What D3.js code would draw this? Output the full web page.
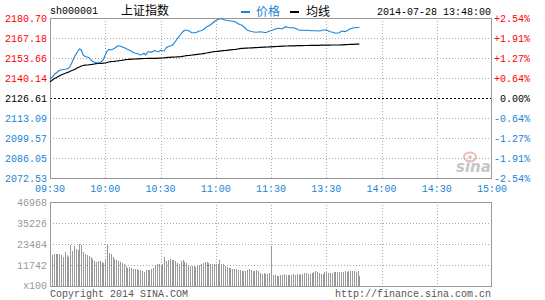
<!DOCTYPE html>
<html>
<head>
<meta charset="utf-8">
<script src="https://cdn.jsdelivr.net/npm/d3@7"></script>
<style>
  body { margin: 0; background: #fff; }
  svg text { font-family: "Liberation Mono", "DejaVu Sans Mono", monospace; font-size: 10px; }
  .cjk { font-family: "Noto Sans CJK SC", sans-serif !important; font-size: 12px !important; }
</style>
</head>
<body>
<div id="chart"></div>
<script>
// 价格刻度（左）与涨跌幅刻度（右）
const priceTicks = [2180.70, 2167.18, 2153.66, 2140.14, 2126.61, 2113.09, 2099.57, 2086.05, 2072.53];
const pctTicks = ["+2.54%", "+1.91%", "+1.27%", "+0.64%", " 0.00%", "-0.64%", "-1.27%", "-1.91%", "-2.54%"];
const prevClose = 2126.61;
const timeTicks = [0, 30, 60, 90, 120, 150, 180, 210, 240];
const timeLabels = ["09:30", "10:00", "10:30", "11:00", "11:30", "13:30", "14:00", "14:30", "15:00"];
const volTicks = [46968, 35226, 23484, 11742];

// 分时价格（每分钟，09:30 起）
const price = [
  2139.46, 2140.48, 2141.83, 2143.18, 2144.20, 2145.21, 2145.55, 2145.89, 2146.02, 2146.22,
  2146.70, 2148.25, 2150.96, 2153.66, 2156.03, 2158.05, 2159.74, 2159.07, 2155.69, 2154.67,
  2154.34, 2154.00, 2152.65, 2151.63, 2150.96, 2150.48, 2150.48, 2150.48, 2151.29, 2152.65,
  2155.69, 2158.39, 2159.54, 2159.07, 2159.54, 2160.22, 2161.10, 2161.97, 2161.77, 2161.30,
  2160.76, 2160.22, 2159.54, 2159.07, 2158.39, 2157.51, 2157.04, 2156.70, 2156.36, 2155.69,
  2156.03, 2156.84, 2155.69, 2157.72, 2157.92, 2157.51, 2158.05, 2158.87, 2158.05, 2157.92,
  2158.87, 2158.59, 2158.39, 2160.42, 2161.30, 2161.77, 2161.97, 2163.12, 2164.68, 2166.50,
  2168.06, 2169.88, 2171.24, 2172.39, 2172.39, 2172.25, 2171.57, 2170.76, 2170.76, 2170.76,
  2171.24, 2171.91, 2172.11, 2172.59, 2173.60, 2174.62, 2175.29, 2175.97, 2176.98, 2178.00,
  2179.01, 2179.69, 2180.02, 2180.36, 2179.69, 2179.35, 2179.01, 2178.87, 2178.67, 2178.67,
  2178.33, 2177.79, 2176.98, 2176.31, 2175.97, 2174.95, 2173.94, 2172.59, 2172.11, 2171.71,
  2171.44, 2171.24, 2171.03, 2171.24, 2171.44, 2171.24, 2171.03, 2170.76, 2171.24, 2171.91,
  2172.11, 2172.59, 2173.06, 2173.47, 2173.74, 2173.60, 2173.26, 2174.14, 2174.82, 2174.41,
  2174.14, 2174.14, 2174.14, 2173.74, 2173.26, 2172.59, 2172.39, 2172.39, 2172.39, 2172.39,
  2172.39, 2172.25, 2172.11, 2172.11, 2172.11, 2172.05, 2171.91, 2172.11, 2172.39, 2172.59,
  2172.79, 2172.11, 2171.44, 2171.24, 2170.90, 2170.36, 2170.56, 2170.76, 2171.57, 2171.91,
  2171.44, 2171.91, 2172.59, 2173.40, 2173.74, 2174.14, 2174.14, 2174.28, 2174.41
];

// 均价线
const avgPrice = [
  2137.64, 2138.45, 2139.46, 2140.14, 2140.82, 2141.49, 2142.17, 2142.71, 2143.18, 2143.66,
  2144.06, 2144.67, 2145.21, 2145.68, 2146.36, 2147.04, 2147.58, 2148.25, 2148.59, 2148.79,
  2148.93, 2149.06, 2149.27, 2149.40, 2149.60, 2149.81, 2149.94, 2150.08, 2150.08, 2150.14,
  2150.28, 2150.62, 2150.96, 2151.16, 2151.29, 2151.43, 2151.63, 2151.77, 2151.97, 2152.11,
  2152.31, 2152.51, 2152.65, 2152.78, 2152.85, 2152.92, 2152.98, 2153.05, 2153.12, 2153.19,
  2153.25, 2153.32, 2153.32, 2153.39, 2153.39, 2153.46, 2153.46, 2153.46, 2153.46, 2153.52,
  2153.52, 2153.66, 2153.80, 2153.93, 2154.07, 2154.13, 2154.20, 2154.27, 2154.34, 2154.40,
  2154.47, 2154.61, 2154.81, 2155.01, 2155.21, 2155.35, 2155.49, 2155.69, 2155.82, 2155.96,
  2156.09, 2156.23, 2156.36, 2156.63, 2156.84, 2157.04, 2157.31, 2157.51, 2157.72, 2157.92,
  2158.05, 2158.19, 2158.32, 2158.46, 2158.59, 2158.73, 2158.87, 2159.00, 2159.14, 2159.27,
  2159.41, 2159.54, 2159.74, 2159.95, 2160.15, 2160.22, 2160.28, 2160.35, 2160.42, 2160.49,
  2160.56, 2160.62, 2160.69, 2160.76, 2160.83, 2160.89, 2160.96, 2161.03, 2161.10, 2161.16,
  2161.23, 2161.30, 2161.37, 2161.43, 2161.50, 2161.57, 2161.64, 2161.70, 2161.77, 2161.77,
  2161.84, 2161.84, 2161.91, 2161.91, 2161.97, 2161.97, 2162.04, 2162.04, 2162.11, 2162.11,
  2162.11, 2162.18, 2162.18, 2162.18, 2162.25, 2162.25, 2162.25, 2162.31, 2162.31, 2162.31,
  2162.38, 2162.38, 2162.38, 2162.45, 2162.45, 2162.45, 2162.45, 2162.45, 2162.52, 2162.58,
  2162.65, 2162.72, 2162.79, 2162.85, 2162.92, 2162.92, 2162.99, 2162.99, 2162.99
];

// 成交量（手 x100）
const volume = [
  19013, 17149, 18081, 18081, 18081, 17708, 17149, 16217, 19013, 17149,
  16217, 22741, 19572, 22182, 20877, 19945, 23673, 23114, 19013, 18081,
  17149, 16590, 16217, 15285, 13980, 13421, 13980, 13794, 13421, 12862,
  15285, 22741, 18454, 18081, 16217, 15285, 14726, 13980, 13421, 12862,
  12116, 10998, 10252, 10625, 10252, 9693, 9506, 9320, 8761, 8761,
  8388, 7829, 9134, 8761, 9134, 9693, 10252, 11557, 12116, 12116,
  11557, 12116, 16217, 13980, 14353, 14912, 14726, 14353, 13980, 12862,
  12116, 13980, 14353, 13421, 12862, 11557, 10998, 10998, 10998, 10625,
  10998, 11557, 12116, 12862, 13421, 13234, 12862, 12489, 12116, 12116,
  12116, 12116, 14353, 12489, 12116, 10998, 10625, 10252, 9879, 9693,
  9693, 9506, 9134, 8761, 8388, 8388, 8388, 9134, 9693, 8761,
  8388, 8388, 8761, 8388, 7270, 6897, 7270, 6897, 6524, 7270,
  22182, 6338, 5965, 5778, 5406, 6338, 6151, 6524, 6338, 6151,
  6338, 6338, 6524, 6338, 6524, 6338, 6524, 6897, 7083, 7270,
  6897, 6897, 7270, 7829, 8202, 7642, 7270, 6524, 6897, 7642,
  7642, 7270, 7270, 7270, 7642, 7829, 7642, 7829, 8015, 8015,
  8202, 7829, 8202, 8202, 8388, 8388, 8015, 8388, 5406
];

const width = 545, height = 300;
const blue = "#1a84d6", red = "#ff0000", grid = "#aaaaaa", frame = "#999999";

const svg = d3.select("#chart").append("svg")
    .attr("width", width)
    .attr("height", height);

const x = d3.scaleLinear().domain([0, 240]).range([50, 492]);
const y = d3.scaleLinear().domain([priceTicks[8], priceTicks[0]]).range([178, 18]);
const yv = d3.scaleLinear().domain([0, volTicks[0]]).range([286, 202]);

// 顶部标题
svg.append("text").attr("x", 50).attr("y", 14).attr("fill", "#000").text("sh000001");
svg.append("text").attr("class", "cjk").attr("x", 121).attr("y", 15).attr("fill", "#000").text("上证指数");
svg.append("rect").attr("x", 241).attr("y", 11).attr("width", 9).attr("height", 2).attr("fill", blue);
svg.append("text").attr("class", "cjk").attr("x", 256).attr("y", 16).attr("fill", blue).text("价格");
svg.append("rect").attr("x", 290).attr("y", 11).attr("width", 9).attr("height", 2).attr("fill", "#000");
svg.append("text").attr("class", "cjk").attr("x", 306).attr("y", 16).attr("fill", "#000").text("均线");
svg.append("text").attr("x", 491).attr("y", 15).attr("text-anchor", "end").attr("fill", "#000")
    .text("2014-07-28 13:48:00");

// 主图网格
const main = svg.append("g").attr("shape-rendering", "crispEdges");
main.selectAll(".hgrid")
    .data(priceTicks.filter(d => d !== prevClose))
    .enter().append("line")
    .attr("x1", 50).attr("x2", 492)
    .attr("y1", d => Math.round(y(d)) + 0.5).attr("y2", d => Math.round(y(d)) + 0.5)
    .attr("stroke", grid).attr("stroke-dasharray", "1,2");
main.selectAll(".vgrid")
    .data(timeTicks.slice(1, -1))
    .enter().append("line")
    .attr("x1", d => Math.round(x(d)) + 0.5).attr("x2", d => Math.round(x(d)) + 0.5)
    .attr("y1", 18).attr("y2", 178)
    .attr("stroke", grid).attr("stroke-dasharray", "1,2");
main.append("line")
    .attr("x1", 50).attr("x2", 492)
    .attr("y1", Math.round(y(prevClose)) + 0.5).attr("y2", Math.round(y(prevClose)) + 0.5)
    .attr("stroke", "#000").attr("stroke-dasharray", "2,2");
main.append("rect")
    .attr("x", 50.5).attr("y", 18.5).attr("width", 441).attr("height", 160)
    .attr("fill", "none").attr("stroke", frame);

// 左侧价格标签
svg.selectAll(".plabel")
    .data(priceTicks)
    .enter().append("text")
    .attr("x", 47).attr("y", d => y(d) + 4)
    .attr("text-anchor", "end")
    .attr("fill", d => d > prevClose ? red : (d < prevClose ? blue : "#000"))
    .text(d => d.toFixed(2));

// 右侧涨跌幅
svg.selectAll(".pctlabel")
    .data(pctTicks)
    .enter().append("text")
    .attr("x", 494).attr("y", (d, i) => y(priceTicks[i]) + 4)
    .attr("xml:space", "preserve")
    .style("white-space", "pre")
    .attr("fill", (d, i) => priceTicks[i] > prevClose ? red : (priceTicks[i] < prevClose ? blue : "#000"))
    .text(d => d);

// 时间轴
svg.selectAll(".tlabel")
    .data(timeTicks)
    .enter().append("text")
    .attr("x", d => x(d)).attr("y", 192)
    .attr("text-anchor", "middle")
    .attr("fill", blue)
    .text((d, i) => timeLabels[i]);

// sina 水印
const logo = svg.append("g").attr("opacity", 0.55);
logo.append("ellipse").attr("cx", 470).attr("cy", 157).attr("rx", 6).attr("ry", 4.5)
    .attr("fill", "none").attr("stroke", "#f08080").attr("stroke-width", 2);
logo.append("circle").attr("cx", 470).attr("cy", 157).attr("r", 1.8).attr("fill", "#999");
logo.append("text").attr("x", 456).attr("y", 172)
    .style("font-family", "DejaVu Sans, sans-serif").style("font-size", "15px")
    .style("font-style", "italic").style("font-weight", "bold")
    .attr("fill", "#999").text("sina");

// 价格与均价线
const line = d3.line().x((d, i) => x(i)).y(d => y(d));
svg.append("path").datum(avgPrice)
    .attr("d", line).attr("fill", "none").attr("stroke", "#000").attr("stroke-width", 1.2);
svg.append("path").datum(price)
    .attr("d", line).attr("fill", "none").attr("stroke", blue).attr("stroke-width", 1.1);

// 成交量区
const vol = svg.append("g").attr("shape-rendering", "crispEdges");
vol.selectAll(".vhgrid")
    .data(volTicks.slice(1))
    .enter().append("line")
    .attr("x1", 50).attr("x2", 492)
    .attr("y1", d => Math.round(yv(d)) + 0.5).attr("y2", d => Math.round(yv(d)) + 0.5)
    .attr("stroke", grid).attr("stroke-dasharray", "1,2");
vol.selectAll(".vvgrid")
    .data(timeTicks.slice(1, -1))
    .enter().append("line")
    .attr("x1", d => Math.round(x(d)) + 0.5).attr("x2", d => Math.round(x(d)) + 0.5)
    .attr("y1", 202).attr("y2", 286)
    .attr("stroke", grid).attr("stroke-dasharray", "1,2");
vol.selectAll(".bar")
    .data(volume)
    .enter().append("rect")
    .attr("x", (d, i) => Math.round(x(i)))
    .attr("y", d => Math.round(yv(d)))
    .attr("width", 1)
    .attr("height", d => 286 - Math.round(yv(d)))
    .attr("fill", "#999");
vol.append("rect")
    .attr("x", 50.5).attr("y", 202.5).attr("width", 441).attr("height", 84)
    .attr("fill", "none").attr("stroke", frame);

svg.selectAll(".vlabel")
    .data(volTicks)
    .enter().append("text")
    .attr("x", 47).attr("y", d => yv(d) + 4)
    .attr("text-anchor", "end")
    .attr("fill", "#999")
    .text(d => d);
svg.append("text").attr("x", 47).attr("y", 289).attr("text-anchor", "end").attr("fill", "#999").text("x100");

// 底部版权
svg.append("text").attr("x", 50).attr("y", 297).attr("fill", "#555").text("Copyright 2014 SINA.COM");
svg.append("text").attr("x", 491).attr("y", 297).attr("text-anchor", "end").attr("fill", "#555")
    .text("http://finance.sina.com.cn");
</script>
</body>
</html>
